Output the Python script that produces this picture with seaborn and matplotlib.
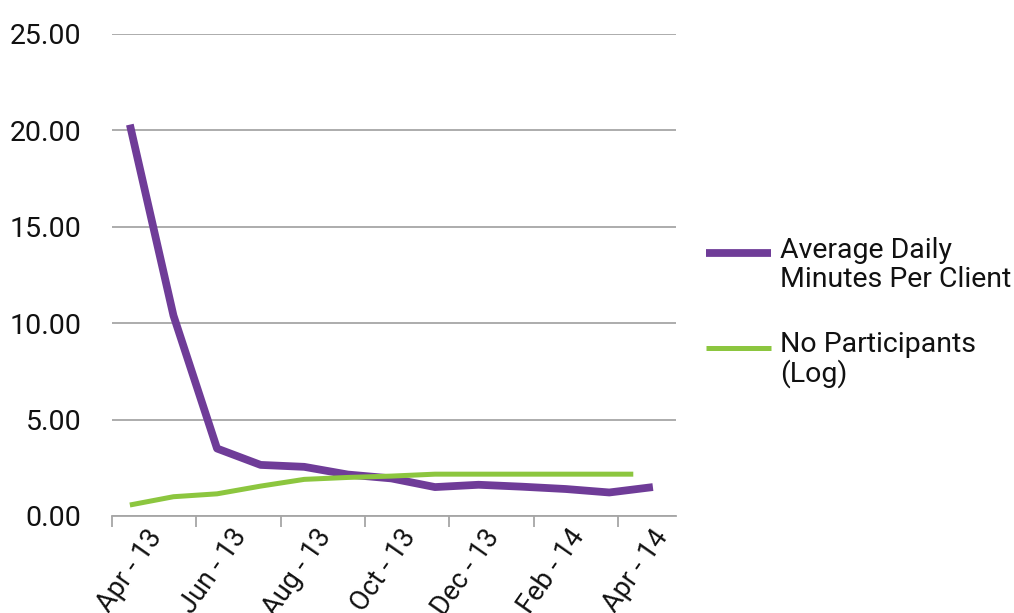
import numpy as np
import pandas as pd
import matplotlib
matplotlib.use("Agg")
import matplotlib.pyplot as plt
import matplotlib.transforms as mtransforms
import seaborn as sns

# data
months = ["Apr - 13", "May - 13", "Jun - 13", "Jul - 13", "Aug - 13", "Sep - 13", "Oct - 13",
          "Nov - 13", "Dec - 13", "Jan - 14", "Feb - 14", "Mar - 14", "Apr - 14"]
minutes_pos = list(range(13))
minutes = [20.3, 10.4, 3.5, 2.65, 2.55, 2.15, 1.95, 1.5, 1.62, 1.52, 1.4, 1.22, 1.5]
# last participant reading lands mid-March
particip_pos = [0, 1, 2, 3, 4, 5, 6, 7, 8, 9, 10, 11, 11.55]
particip = [0.57, 1.0, 1.15, 1.55, 1.9, 2.0, 2.07, 2.17, 2.17, 2.17, 2.17, 2.17, 2.17]
label_months = months[::2]
yticks = [0, 5, 10, 15, 20, 25]

purple = "#6f3c98"
green = "#8cc63f"
grid_c = "#a6a6a6"

sns.set_style("white")
plt.rcParams['font.family'] = ['Roboto', 'DejaVu Sans']

fig, ax = plt.subplots(figsize=(10.14, 6.13), dpi=100)
fig.subplots_adjust(left=112/1014, right=676/1014, top=1-34/613, bottom=1-516/613)

df1 = pd.DataFrame({"m": minutes_pos, "v": minutes})
df2 = pd.DataFrame({"m": particip_pos, "v": particip})
sns.lineplot(data=df1, x="m", y="v", ax=ax, color=purple, linewidth=5.6,
             label="Average Daily\nMinutes Per Client", solid_capstyle="butt")
sns.lineplot(data=df2, x="m", y="v", ax=ax, color=green, linewidth=3.6,
             label="No Participants\n(Log)", solid_capstyle="butt")

ax.set_xlim(-0.41, 12.53)
ax.set_ylim(0, 25)
ax.set_xlabel("")
ax.set_ylabel("")

# y axis
ax.set_yticks(yticks)
ax.set_yticklabels(["%.2f" % v for v in yticks], fontsize=20.5, color="#111111")
ax.yaxis.grid(True, color=grid_c, linewidth=1.3)
ax.tick_params(axis="y", length=0, pad=22)

# x axis: tick marks every two months, labels sit to the right of them
tickpos = -0.41 + 1.935 * np.arange(len(label_months))
ax.set_xticks(tickpos)
ax.set_xticklabels(label_months, fontsize=19.5, color="#111111", rotation=55,
                   ha="right", va="top", rotation_mode="anchor")
ax.tick_params(axis="x", direction="out", length=8, width=1.3, color=grid_c, pad=-2, bottom=True)
off = mtransforms.ScaledTranslation(0.34, 0, fig.dpi_scale_trans)
for lab in ax.get_xticklabels():
    lab.set_transform(lab.get_transform() + off)

for s in ["left", "right", "top"]:
    ax.spines[s].set_visible(False)
ax.spines["bottom"].set_color(grid_c)
ax.spines["bottom"].set_linewidth(1.3)
ax.set_axisbelow(True)

leg = ax.legend(loc="upper left", bbox_to_anchor=(706/1014, 1-237/613),
                bbox_transform=fig.transFigure, frameon=False, fontsize=20.5,
                handlelength=2.3, handleheight=1.85, handletextpad=0.3, labelspacing=1.33,
                borderpad=0, borderaxespad=0)
for t in leg.get_texts():
    t.set_color("#111111")
    t.set_linespacing(1.08)
# handles sit a bit higher than the middle of the two-line labels
up = mtransforms.ScaledTranslation(0, 0.07, fig.dpi_scale_trans)
for ln in leg.get_lines():
    ln.set_transform(ln.get_transform() + up)

fig.savefig("out.png", dpi=100)
